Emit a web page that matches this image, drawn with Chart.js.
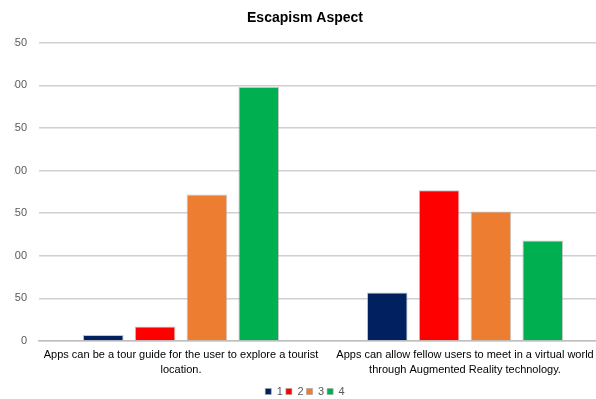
<!DOCTYPE html>
<html>
<head>
<meta charset="utf-8">
<script src="https://cdn.jsdelivr.net/npm/chart.js@4"></script>
<style>
  html, body { margin: 0; padding: 0; background: #ffffff; overflow: hidden; }
  #wrap { width: 596px; height: 399px; }
</style>
</head>
<body>
<div id="wrap"><canvas id="chart"></canvas></div>
<script>
// Survey statements (two-line axis labels)
const categories = [
  ["Apps can be a tour guide for the user to explore a tourist", "location."],
  ["Apps can allow fellow users to meet in a virtual world", "through Augmented Reality technology."]
];
// Rating labels and response counts per rating
const seriesNames = ["1", "2", "3", "4"];
const rating1 = [7, 57];
const rating2 = [17, 177];
const rating3 = [172, 152];
const rating4 = [298, 118];
const seriesColors = ["#002060", "#ff0000", "#ed7d31", "#00b050"];
const yTicks = [0, 50, 100, 150, 200, 250, 300, 350];

const values = [rating1, rating2, rating3, rating4];
const fontFamily = "'Liberation Sans', Arial, sans-serif";

// The plot area runs a little past the right edge of the canvas.
const rightOverhang = 11;
const overhangPlugin = {
  id: 'overhang',
  afterLayout(chart) {
    const x = chart.scales.x;
    x.right += rightOverhang;
    x.width += rightOverhang;
    chart.chartArea.right = x.right;
    chart.chartArea.width = x.right - chart.chartArea.left;
    x.configure();
  }
};

new Chart(document.getElementById('chart'), {
  type: 'bar',
  plugins: [overhangPlugin],
  data: {
    labels: categories,
    datasets: seriesNames.map((name, i) => ({
      label: name,
      data: values[i],
      backgroundColor: seriesColors[i],
      borderColor: 'rgba(160,160,160,0.6)',
      borderWidth: 1,
      categoryPercentage: 0.73,
      barPercentage: 0.783
    }))
  },
  options: {
    responsive: true,
    maintainAspectRatio: false,
    animation: false,
    layout: { padding: { left: 14, right: 0, top: 4, bottom: -8 } },
    plugins: {
      title: {
        display: true,
        text: 'Escapism Aspect',
        color: '#000000',
        font: { family: fontFamily, size: 14, weight: 'bold' },
        padding: { top: 6, bottom: 16 }
      },
      legend: {
        position: 'bottom',
        labels: {
          boxWidth: 6,
          boxHeight: 6,
          padding: 3,
          color: '#595959',
          font: { family: fontFamily, size: 11 }
        }
      },
      tooltip: { enabled: false }
    },
    scales: {
      x: {
        grid: { display: false, drawTicks: false },
        border: { color: '#bfbfbf', width: 1.5 },
        // long wrapped labels may overhang the plot edges without shrinking it
        afterFit: (axis) => { axis.paddingLeft = 0; axis.paddingRight = 0; },
        ticks: {
          color: '#000000',
          font: { family: fontFamily, size: 11, lineHeight: 1.36 },
          maxRotation: 0,
          autoSkip: false,
          padding: 6
        }
      },
      y: {
        min: 0,
        max: 350,
        afterBuildTicks: (axis) => { axis.ticks = yTicks.map(v => ({ value: v })); },
        afterFit: (axis) => { axis.width = 25; },
        grid: { color: '#d0d0d0', lineWidth: 1.5, drawTicks: false },
        border: { display: false },
        ticks: {
          color: '#595959',
          font: { family: fontFamily, size: 11 },
          padding: 12
        }
      }
    }
  }
});
</script>
</body>
</html>
